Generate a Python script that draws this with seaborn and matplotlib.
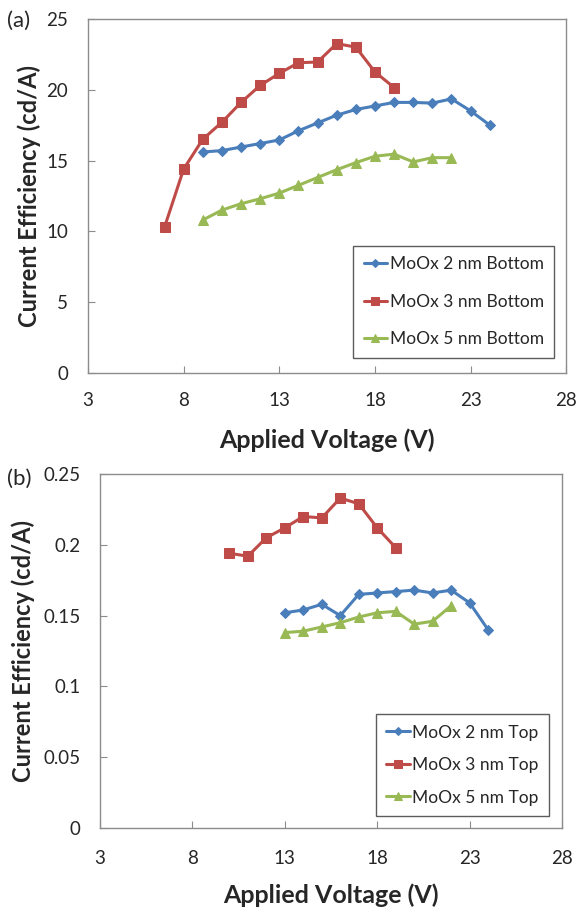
import numpy as np
import pandas as pd
import matplotlib
matplotlib.use("Agg")
import matplotlib.pyplot as plt
import seaborn as sns

# (a) bottom-electrode devices
v_a_2nm = [9, 10, 11, 12, 13, 14, 15, 16, 17, 18, 19, 20, 21, 22, 23, 24]
ce_a_2nm = [15.6, 15.7, 15.95, 16.2, 16.45, 17.1, 17.65, 18.2, 18.6, 18.85, 19.1, 19.1, 19.05, 19.35, 18.5, 17.5]
v_a_3nm = [7, 8, 9, 10, 11, 12, 13, 14, 15, 16, 17, 18, 19]
ce_a_3nm = [10.3, 14.4, 16.5, 17.7, 19.1, 20.3, 21.15, 21.9, 21.95, 23.25, 23.0, 21.25, 20.15]
v_a_5nm = [9, 10, 11, 12, 13, 14, 15, 16, 17, 18, 19, 20, 21, 22]
ce_a_5nm = [10.8, 11.5, 11.95, 12.3, 12.7, 13.25, 13.8, 14.35, 14.85, 15.3, 15.45, 14.9, 15.2, 15.2]

# (b) top-electrode devices
v_b_2nm = [13, 14, 15, 16, 17, 18, 19, 20, 21, 22, 23, 24]
ce_b_2nm = [0.152, 0.154, 0.158, 0.150, 0.165, 0.166, 0.167, 0.168, 0.166, 0.168, 0.159, 0.140]
v_b_3nm = [10, 11, 12, 13, 14, 15, 16, 17, 18, 19]
ce_b_3nm = [0.194, 0.192, 0.205, 0.212, 0.220, 0.219, 0.233, 0.229, 0.212, 0.198]
v_b_5nm = [13, 14, 15, 16, 17, 18, 19, 20, 21, 22]
ce_b_5nm = [0.138, 0.139, 0.142, 0.145, 0.149, 0.152, 0.153, 0.144, 0.146, 0.157]

blue, red, green = "#4A7EBB", "#BE4B48", "#98B954"

sns.set_theme(style="white")
plt.rcParams["font.family"] = ["Lato", "DejaVu Sans"]

fig = plt.figure(figsize=(5.79, 9.13), dpi=100)
ax1 = fig.add_axes([0.152, 0.5914, 0.826, 0.388])
ax2 = fig.add_axes([0.1727, 0.0931, 0.798, 0.3877])

def draw(ax, series, ylim, yticks, ytlabels, legend_box, ypad, xpad, ylab_x, lspace):
    for v, ce, label, color, marker, ms in series:
        sns.lineplot(x=v, y=ce, ax=ax, color=color, marker=marker, markersize=ms,
                     markeredgecolor=color, linewidth=2.2, label=label)
    ax.set_xlim(3, 28)
    ax.set_xticks([3, 8, 13, 18, 23, 28])
    ax.set_ylim(*ylim)
    ax.set_yticks(yticks)
    ax.set_yticklabels(ytlabels)
    for s in ax.spines.values():
        s.set_color("#8c8c8c")
        s.set_linewidth(1.0)
    ax.tick_params(direction="in", length=5, width=0.8, color="#8c8c8c",
                   labelsize=13.5, left=True, bottom=True)
    ax.tick_params(axis="y", pad=ypad)
    ax.tick_params(axis="x", pad=xpad)
    ax.set_xlabel("Applied Voltage (V)", fontsize=18, fontweight="bold", va="center")
    ax.set_ylabel("Current Efficiency (cd/A)", fontsize=17, fontweight="bold",
                  va="center", ha="center")
    ax.xaxis.set_label_coords(0.5, -0.19)
    ax.yaxis.set_label_coords(ylab_x, 0.5)
    leg = ax.legend(loc="lower right", bbox_to_anchor=legend_box, fontsize=12.5,
                    frameon=True, fancybox=False, edgecolor="#333333",
                    handlelength=1.35, handletextpad=0.15, labelspacing=lspace,
                    borderpad=0.6, borderaxespad=0, markerscale=0.8)
    leg.get_frame().set_linewidth(1.0)

draw(ax1,
     [(v_a_2nm, ce_a_2nm, "MoOx 2 nm Bottom", blue, "D", 5),
      (v_a_3nm, ce_a_3nm, "MoOx 3 nm Bottom", red, "s", 6.5),
      (v_a_5nm, ce_a_5nm, "MoOx 5 nm Bottom", green, "^", 7)],
     (0, 25), [0, 5, 10, 15, 20, 25], ["0", "5", "10", "15", "20", "25"],
     (0.975, 0.043), 14.4, 13.5, -0.122, 1.24)
draw(ax2,
     [(v_b_2nm, ce_b_2nm, "MoOx 2 nm Top", blue, "D", 5),
      (v_b_3nm, ce_b_3nm, "MoOx 3 nm Top", red, "s", 6.5),
      (v_b_5nm, ce_b_5nm, "MoOx 5 nm Top", green, "^", 7)],
     (0, 0.25), [0, 0.05, 0.1, 0.15, 0.2, 0.25],
     ["0", "0.05", "0.1", "0.15", "0.2", "0.25"],
     (0.972, 0.034), 14, 16, -0.167, 0.95)

fig.text(0.012, 0.977, "(a)", fontsize=16, va="center", ha="left")
fig.text(0.012, 0.475, "(b)", fontsize=16, va="center", ha="left")

fig.savefig("out.png", dpi=100)
